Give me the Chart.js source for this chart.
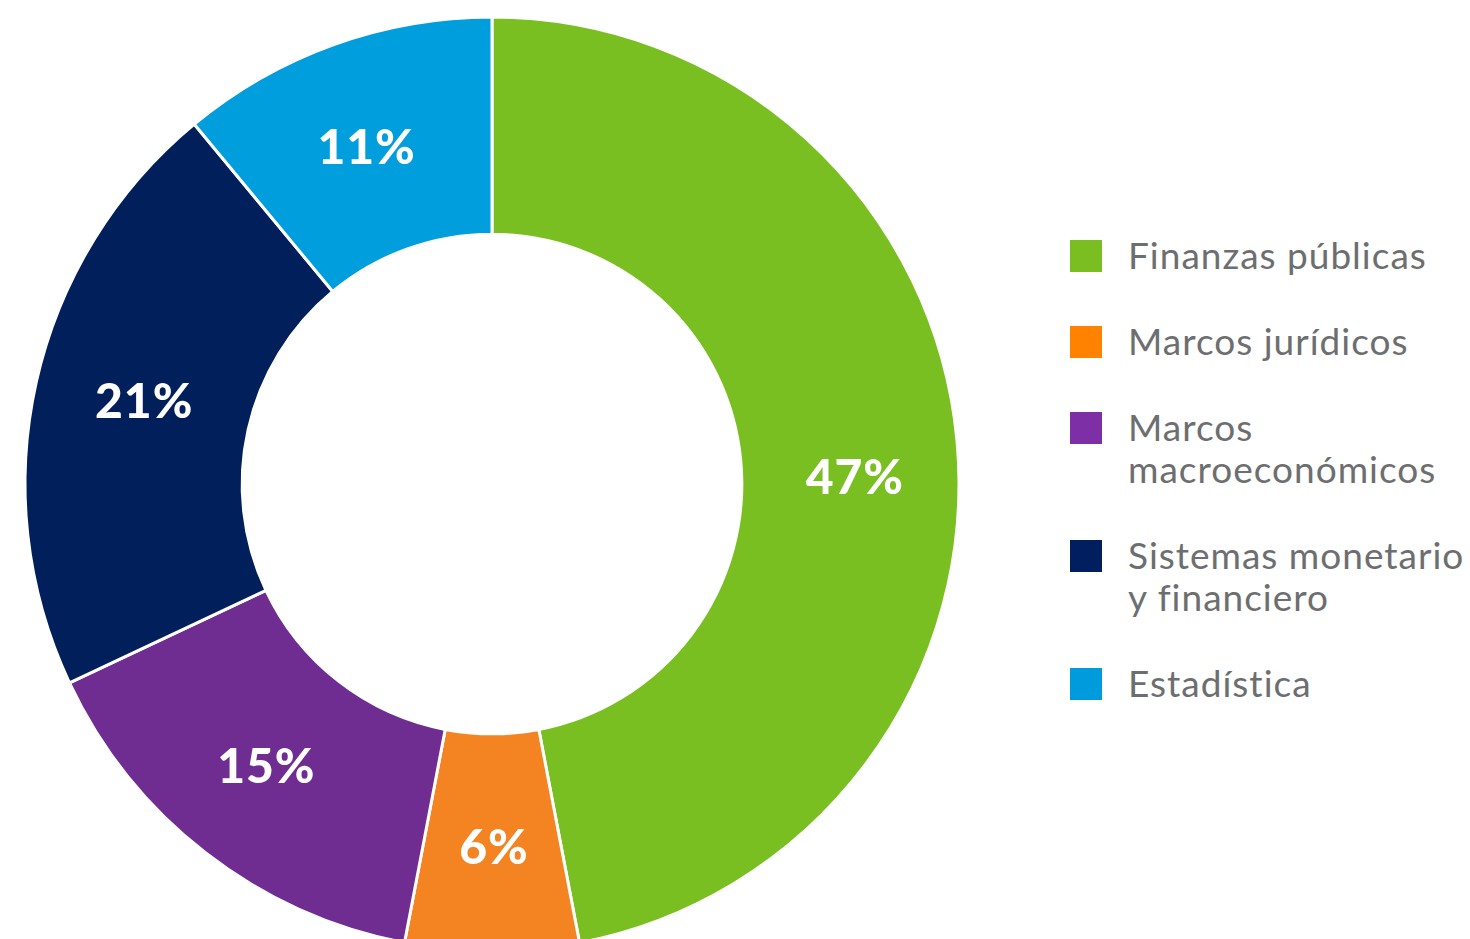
<!DOCTYPE html>
<html>
<head>
<meta charset="utf-8">
<script src="https://cdn.jsdelivr.net/npm/chart.js@4.4.1/dist/chart.umd.min.js"></script>
<style>
  html, body { margin: 0; padding: 0; background: #fff; overflow: hidden; width: 1470px; height: 939px; }
  #wrap { position: absolute; left: 0; top: 0; width: 984px; height: 968px; }
  #legend { position: absolute; left: 1070px; top: 234px; margin: 0; padding: 0; list-style: none;
    font-family: Lato, "Noto Sans", sans-serif; font-size: 37px; line-height: 42px; letter-spacing: 1px; color: #6d6e70; }
  #legend li { display: flex; align-items: flex-start; margin-bottom: 44px; white-space: nowrap; }
  #legend .box { width: 32px; height: 32px; margin-top: 6px; margin-right: 26px; flex: none; }
</style>
</head>
<body>
<div id="wrap"><canvas id="chart"></canvas></div>
<ul id="legend"></ul>
<script>
const labels = [
  ["Finanzas públicas"],
  ["Marcos jurídicos"],
  ["Marcos", "macroeconómicos"],
  ["Sistemas monetario", "y financiero"],
  ["Estadística"]
];
const shares = [47, 6, 15, 21, 11];
const sliceColors = ["#7abf21", "#f48322", "#6f2c91", "#001f5b", "#009edc"];
const legendColors = ["#7bbe22", "#ff8200", "#7d2fa5", "#011e5e", "#009bdd"];

// legend built from the same arrays
const legend = document.getElementById("legend");
labels.forEach((lines, i) => {
  const li = document.createElement("li");
  const box = document.createElement("span");
  box.className = "box";
  box.style.background = legendColors[i];
  const txt = document.createElement("span");
  txt.innerHTML = lines.join("<br>");
  li.appendChild(box);
  li.appendChild(txt);
  legend.appendChild(li);
});

// percent labels in the middle of each slice
const sliceLabels = {
  id: "sliceLabels",
  afterDatasetsDraw(chart, args, opts) {
    const ctx = chart.ctx;
    const meta = chart.getDatasetMeta(0);
    ctx.save();
    ctx.fillStyle = "#ffffff";
    ctx.font = "900 48px Lato, 'Noto Sans', sans-serif";
    ctx.letterSpacing = "1px";
    ctx.textAlign = "center";
    ctx.textBaseline = "middle";
    meta.data.forEach((arc, i) => {
      const p = arc.tooltipPosition();
      const dx = (opts.nudgeX && opts.nudgeX[i]) || 0;
      const dy = (opts.nudgeY && opts.nudgeY[i]) || 0;
      ctx.fillText(shares[i] + "%", p.x + dx, p.y + dy);
    });
    ctx.restore();
  }
};

new Chart(document.getElementById("chart"), {
  type: "doughnut",
  data: {
    labels: labels.map(l => l.join(" ")),
    datasets: [{
      data: shares,
      backgroundColor: sliceColors,
      borderColor: "#ffffff",
      borderWidth: 3,
      hoverOffset: 0
    }]
  },
  options: {
    responsive: true,
    maintainAspectRatio: false,
    animation: false,
    radius: 467,
    cutout: "53.5%",
    layout: { padding: 0 },
    plugins: {
      legend: { display: false },
      tooltip: { enabled: false },
      sliceLabels: { nudgeX: [6, 2, -6, 2, -4], nudgeY: [28, 6, 0, -3, 2] }
    }
  },
  plugins: [sliceLabels]
});
</script>
</body>
</html>
